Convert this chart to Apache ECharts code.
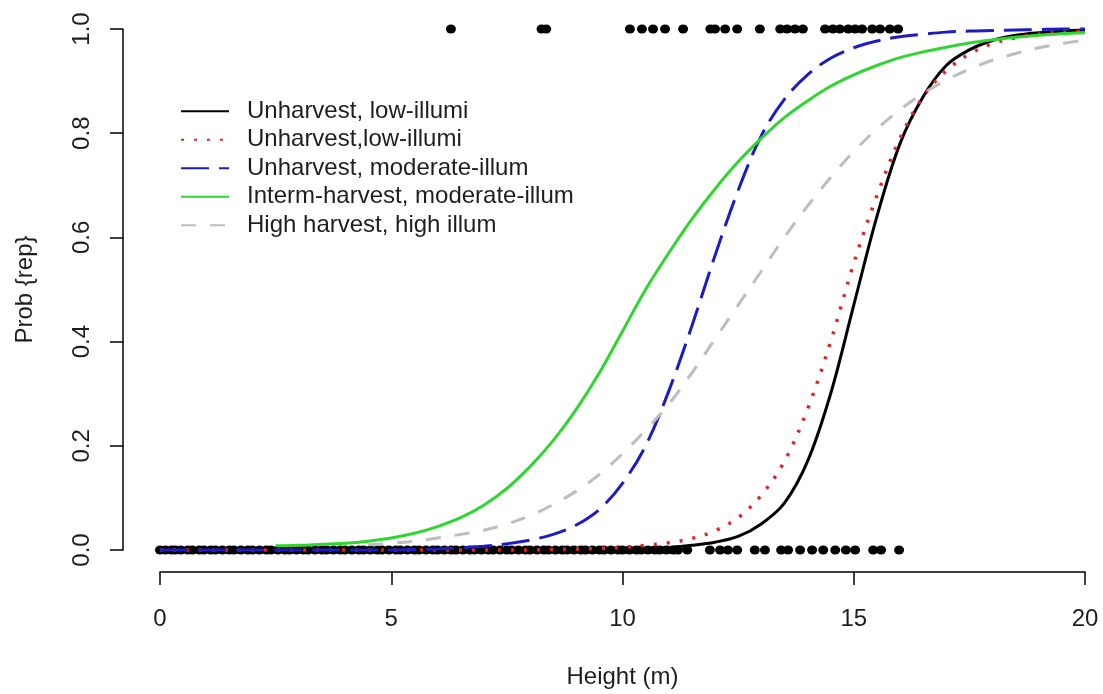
<!DOCTYPE html>
<html>
<head>
<meta charset="utf-8">
<script src="https://cdn.jsdelivr.net/npm/echarts@6/dist/echarts.min.js"></script>
<style>
  html, body { margin: 0; padding: 0; background: #fff; }
  #chart { width: 1103px; height: 694px; }
</style>
</head>
<body>
<div id="chart"></div>
<script>
const heights = [0, 0.5, 1, 1.5, 2, 2.5, 3, 3.5, 4, 4.5, 5, 5.5, 6, 6.5, 7, 7.5, 8, 8.5, 9, 9.5,
  10, 10.5, 11, 11.5, 12, 12.5, 13, 13.5, 14, 14.5, 15, 15.5, 16, 16.5, 17, 17.5, 18, 18.5, 19, 19.5, 20];

// fitted probabilities, null = curve not drawn there
const unharvLow = [0, 0, 0, 0, 0, 0, 0, 0, 0, 0, 0, 0, 0, 0, 0, 0, 0, 0, 0.0005, 0.001,
  0.001, 0.003, 0.005, 0.009, 0.015, 0.026, 0.05, 0.09, 0.17, 0.30, 0.47, 0.64, 0.78, 0.87, 0.93, 0.96, 0.978, 0.988, 0.993, 0.996, 0.998];
const unharvLow2 = [0, 0, 0, 0, 0, 0, 0, 0, 0, 0, 0, 0, 0, 0, 0, 0, 0, 0.001, 0.002, 0.003,
  0.005, 0.009, 0.014, 0.022, 0.037, 0.062, 0.105, 0.17, 0.27, 0.40, 0.55, 0.68, 0.79, 0.87, 0.92, 0.952, 0.972, 0.983, 0.99, 0.994, 0.996];
const unharvMod = [0, 0, 0, 0, 0, 0, 0, 0, 0, 0, 0, 0.001, 0.002, 0.004, 0.007, 0.012, 0.019, 0.03, 0.048, 0.078,
  0.128, 0.2, 0.305, 0.43, 0.565, 0.69, 0.795, 0.865, 0.912, 0.944, 0.964, 0.977, 0.985, 0.99, 0.994, 0.996, 0.997, 0.998, 0.999, 1, 1];
const intermMod = [null, null, null, null, null, 0.008, 0.009, 0.011, 0.013, 0.017, 0.023, 0.032, 0.045, 0.062, 0.086, 0.118, 0.16, 0.21, 0.27, 0.34,
  0.42, 0.50, 0.57, 0.635, 0.693, 0.745, 0.79, 0.83, 0.862, 0.89, 0.912, 0.93, 0.945, 0.956, 0.965, 0.973, 0.979, 0.984, 0.988, 0.991, 0.993];
const highHigh = [null, null, null, null, null, null, null, null, null, 0.01, 0.013, 0.017, 0.023, 0.03, 0.038, 0.05, 0.066, 0.087, 0.113, 0.145,
  0.185, 0.23, 0.28, 0.34, 0.405, 0.47, 0.535, 0.6, 0.66, 0.715, 0.765, 0.808, 0.845, 0.876, 0.902, 0.923, 0.94, 0.953, 0.964, 0.972, 0.979];

// observed trees: height of non-reproductive (0) and reproductive (1) ones
const obsZero = [0, 0.12, 0.25, 0.33, 0.45, 0.6, 0.7, 0.85, 0.95, 1.1, 1.2, 1.35, 1.5, 1.6, 1.75, 1.9, 2.0, 2.15, 2.3, 2.4,
  2.55, 2.7, 2.8, 2.95, 3.1, 3.2, 3.35, 3.5, 3.6, 3.75, 3.9, 4.0, 4.15, 4.3, 4.4, 4.55, 4.7, 4.8, 4.95, 5.1,
  5.2, 5.35, 5.5, 5.6, 5.75, 5.9, 6.0, 6.15, 6.3, 6.4, 6.55, 6.7, 6.8, 6.95, 7.1, 7.2, 7.35, 7.5, 7.6, 7.75,
  7.9, 8.0, 8.15, 8.3, 8.4, 8.55, 8.7, 8.8, 8.95, 9.1, 9.2, 9.35, 9.5, 9.6, 9.75, 9.9, 10.0, 10.15, 10.3, 10.4,
  10.55, 10.7, 10.8, 10.95, 11.1, 11.2, 11.4, 11.89, 12.11, 12.28, 12.48, 12.86, 13.08, 13.43, 13.58, 13.84, 14.1, 14.34, 14.6, 14.83,
  15.03, 15.42, 15.59, 15.98];
const obsOne = [6.29, 8.25, 8.35, 10.16, 10.42, 10.66, 10.92, 11.31, 11.9, 12.0, 12.22, 12.48, 12.97, 13.41, 13.56, 13.73, 13.9, 14.38, 14.55, 14.7,
  14.88, 15.03, 15.18, 15.4, 15.57, 15.78, 15.96];

const curveNames = ['Unharvest, low-illumi', 'Unharvest,low-illumi', 'Unharvest, moderate-illum',
  'Interm-harvest, moderate-illum', 'High harvest, high illum'];

const FONT = "'Liberation Sans', Arial, sans-serif";
const TXT = '#1e1e1e';

function pairs(vals) {
  const out = [];
  heights.forEach((h, i) => { if (vals[i] != null) out.push([h, vals[i]]); });
  return out;
}

function curve(name, vals, color, type, width) {
  return {
    name: name,
    type: 'line',
    data: pairs(vals),
    smooth: 0.35,
    symbol: 'none',
    clip: false,
    lineStyle: { color: color, width: width, type: type, cap: 'butt' },
    itemStyle: { color: color },
    z: 3
  };
}

const chart = echarts.init(document.getElementById('chart'), null, { renderer: 'canvas' });

chart.setOption({
  animation: false,
  backgroundColor: '#fff',
  textStyle: { fontFamily: FONT },
  grid: { left: 160, right: 18, top: 29, bottom: 143 },
  legend: {
    data: curveNames,
    orient: 'vertical',
    left: 180,
    top: 97,
    padding: 0,
    itemWidth: 48,
    itemHeight: 10,
    itemGap: 0,
    itemStyle: { opacity: 0 },
    textStyle: { fontSize: 24, color: TXT, fontFamily: FONT, lineHeight: 28.5, padding: [0, 0, 0, 13] }
  },
  xAxis: {
    type: 'value',
    min: 0, max: 20, interval: 5,
    offset: 22,
    splitLine: { show: false },
    axisLine: { onZero: false, lineStyle: { color: '#000', width: 1.5 } },
    axisTick: { length: 13, lineStyle: { color: '#000', width: 1.5 } },
    axisLabel: { fontSize: 24, color: TXT, margin: 35, fontFamily: FONT },
    name: 'Height (m)',
    nameLocation: 'middle',
    nameGap: 93,
    nameTextStyle: { fontSize: 24, color: TXT, fontFamily: FONT }
  },
  yAxis: {
    type: 'value',
    min: 0, max: 1, interval: 0.2,
    offset: 37,
    splitLine: { show: false },
    axisLine: { show: true, onZero: false, lineStyle: { color: '#000', width: 1.5 } },
    axisTick: { show: true, length: 13, lineStyle: { color: '#000', width: 1.5 } },
    axisLabel: { fontSize: 24, color: TXT, rotate: 90, margin: 29, fontFamily: FONT,
      formatter: v => v.toFixed(1) },
    name: 'Prob {rep}',
    nameLocation: 'middle',
    nameGap: 86,
    nameTextStyle: { fontSize: 24, color: TXT, fontFamily: FONT }
  },
  series: [
    {
      name: 'obs0', type: 'scatter', data: obsZero.map(h => [h, 0]),
      symbol: 'circle', symbolSize: [10, 9], clip: false,
      itemStyle: { color: '#000', opacity: 1 }, z: 2
    },
    {
      name: 'obs1', type: 'scatter', data: obsOne.map(h => [h, 1]),
      symbol: 'circle', symbolSize: [10, 9], clip: false,
      itemStyle: { color: '#000', opacity: 1 }, z: 2
    },
    curve(curveNames[0], unharvLow, '#000000', 'solid', 3),
    curve(curveNames[1], unharvLow2, '#e02424', [3, 10], 3.5),
    curve(curveNames[2], unharvMod, '#1c1cc4', [28, 10], 3),
    curve(curveNames[3], intermMod, '#2fd62f', 'solid', 3),
    curve(curveNames[4], highHigh, '#bdbdbd', [15, 14], 3)
  ]
});
</script>
</body>
</html>
